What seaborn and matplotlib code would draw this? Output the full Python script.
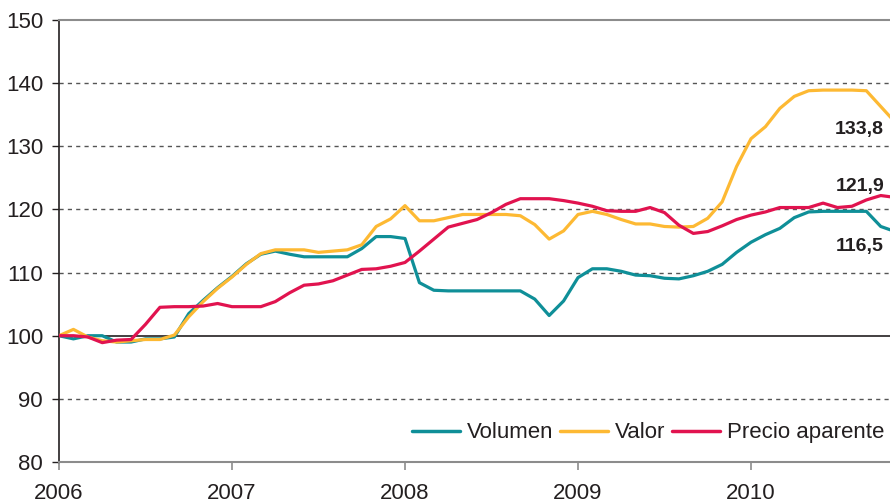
import numpy as np
import pandas as pd
import matplotlib
matplotlib.use("Agg")
import matplotlib.pyplot as plt
import seaborn as sns

# Monthly index values (base January 2006 = 100), January 2006 to November 2010
months = pd.period_range("2006-01", "2010-11", freq="M")

volumen = [100.0, 99.5, 100.0, 100.0, 99.0, 99.0, 99.5, 99.5, 99.8, 103.5,
           105.6, 107.6, 109.4, 111.4, 112.9, 113.4, 112.9, 112.5, 112.5, 112.5,
           112.5, 113.8, 115.7, 115.7, 115.4, 108.4, 107.2, 107.1, 107.1, 107.1,
           107.1, 107.1, 107.1, 105.8, 103.2, 105.5, 109.2, 110.6, 110.6, 110.2,
           109.6, 109.5, 109.1, 109.0, 109.5, 110.2, 111.3, 113.2, 114.8, 116.0,
           117.0, 118.7, 119.6, 119.7, 119.7, 119.7, 119.7, 117.3, 116.5]

valor = [100.0, 101.0, 99.8, 99.2, 99.0, 99.2, 99.4, 99.4, 100.1, 103.0,
         105.4, 107.5, 109.3, 111.3, 113.0, 113.6, 113.6, 113.6, 113.2, 113.4,
         113.6, 114.4, 117.3, 118.5, 120.6, 118.2, 118.2, 118.7, 119.2, 119.2,
         119.2, 119.2, 119.0, 117.6, 115.3, 116.6, 119.2, 119.7, 119.2, 118.4,
         117.7, 117.7, 117.3, 117.2, 117.3, 118.6, 121.2, 126.8, 131.2, 133.1,
         136.0, 137.9, 138.8, 138.9, 138.9, 138.9, 138.8, 136.3, 133.8]

precio = [100.0, 100.0, 99.8, 98.9, 99.3, 99.4, 101.8, 104.5, 104.6, 104.6,
          104.7, 105.1, 104.6, 104.6, 104.6, 105.4, 106.8, 108.0, 108.2, 108.7,
          109.6, 110.5, 110.6, 111.0, 111.6, 113.4, 115.3, 117.2, 117.8, 118.4,
          119.5, 120.8, 121.7, 121.7, 121.7, 121.4, 121.0, 120.5, 119.8, 119.7,
          119.7, 120.3, 119.5, 117.5, 116.2, 116.5, 117.4, 118.4, 119.1, 119.6,
          120.3, 120.3, 120.3, 121.0, 120.3, 120.5, 121.5, 122.2, 121.9]

series_names = ["Volumen", "Valor", "Precio aparente"]
series_colors = ["#0F8F98", "#FDB933", "#E1134F"]
year_ticks = [2006, 2007, 2008, 2009, 2010]
y_ticks = [80, 90, 100, 110, 120, 130, 140, 150]

t = months.year + (months.month - 1) / 12.0
df = pd.DataFrame({"t": np.tile(t, 3),
                   "indice": volumen + valor + precio,
                   "serie": np.repeat(series_names, len(months))})

sns.set_style("white")
plt.rcParams["font.family"] = ["Liberation Sans", "DejaVu Sans"]
text_color = "#231F20"

fig = plt.figure(figsize=(8.9, 5.03), dpi=100)
ax = fig.add_axes([59 / 890, 1 - 462 / 503, 1 - 59 / 890, (462 - 20) / 503])

# reference grid: dashed lines, solid base line at 100
for yv in y_ticks:
    if yv in (80, 150):
        continue
    if yv == 100:
        ax.axhline(yv, color="#231F20", lw=1.2, zorder=1)
    else:
        ax.axhline(yv, color="#555555", lw=1.0, ls=(0, (3, 3)), zorder=1)

sns.lineplot(data=df, x="t", y="indice", hue="serie", hue_order=series_names,
             palette=series_colors, lw=2.3, ax=ax, legend=True, zorder=3)

ax.set_xlim(2006, 2010 + (890 - 751) / 173)
ax.set_ylim(80, 150)
ax.set_xticks(year_ticks)
ax.set_xticklabels([str(y) for y in year_ticks])
ax.set_yticks(y_ticks)
ax.set_xlabel("")
ax.set_ylabel("")

ax.spines["left"].set_color("#231F20")
ax.spines["left"].set_linewidth(1.2)
for side in ("bottom", "top"):
    ax.spines[side].set_color("#8C8C8C")
    ax.spines[side].set_linewidth(1.5)
ax.spines["right"].set_visible(False)

ax.tick_params(axis="y", direction="out", length=5, width=1, color="#231F20",
               labelsize=16, labelcolor=text_color, pad=6.5, left=True)
ax.tick_params(axis="x", direction="out", length=6, width=1.2, color="#8C8C8C",
               labelsize=16, labelcolor=text_color, pad=9, bottom=True)

# end-of-series value labels
label_offset = {"Volumen": -2.4, "Valor": -1.2, "Precio aparente": 1.7}
for name, vals in zip(series_names, [volumen, valor, precio]):
    val = vals[-1]
    ax.text(2010.769, val + label_offset[name], f"{val:.1f}".replace(".", ","),
            ha="right", va="center", fontsize=14, fontweight="bold",
            color=text_color, zorder=4)

leg = ax.legend(ncol=3, loc="center right", bbox_to_anchor=(1.0045, 0.066),
                frameon=False, fontsize=16, handlelength=2.15, handletextpad=0.33,
                columnspacing=0.3, borderaxespad=0)
for line in leg.get_lines():
    line.set_linewidth(2.5)
for txt in leg.get_texts():
    txt.set_color(text_color)

fig.savefig("out.png", dpi=100)
